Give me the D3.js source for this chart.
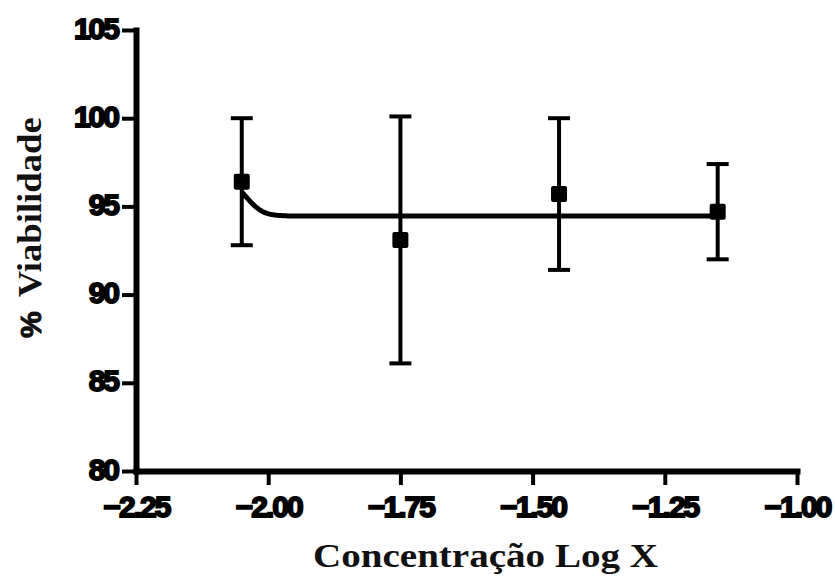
<!DOCTYPE html>
<html>
<head>
<meta charset="utf-8">
<script src="https://cdn.jsdelivr.net/npm/d3@7"></script>
<style>
  body { margin: 0; background: #fff; }
</style>
</head>
<body>
<script>
// data (log concentration vs % viability, mean +/- SD)
var logConc = [-2.05, -1.75, -1.45, -1.15]
var meanViab = [96.4, 93.1, 95.7, 94.7]
var sdViab = [3.6, 7.0, 4.3, 2.7]

var xTicks = [-2.25, -2.00, -1.75, -1.50, -1.25, -1.00]
var yTicks = [80, 85, 90, 95, 100, 105]

// sigmoidal fit (bottom, top, logEC50, hill slope)
var fitBottom = 94.45
var fitTop = 96.45
var fitLogEC50 = -2.039
var fitHill = 29

var width = 835
var height = 576

var svg = d3.select('body').append('svg')
  .attr('width', width)
  .attr('height', height)

var x = d3.scaleLinear().domain([-2.25, -1.0]).range([136, 797])
var y = d3.scaleLinear().domain([80, 105]).range([471, 30])

function fit (lx) {
  return fitBottom + (fitTop - fitBottom) / (1 + Math.pow(10, (lx - fitLogEC50) * fitHill))
}

// axes
var xAxis = svg.append('g')
  .attr('transform', 'translate(0,' + y(80) + ')')
  .call(d3.axisBottom(x).tickValues(xTicks).tickFormat(d3.format('.2f')).tickSize(14).tickSizeOuter(0).tickPadding(11))

var yAxis = svg.append('g')
  .attr('transform', 'translate(' + x(-2.25) + ',0)')
  .call(d3.axisLeft(y).tickValues(yTicks).tickSize(14).tickSizeOuter(0).tickPadding(4))

;[xAxis, yAxis].forEach(function (ax) {
  ax.select('.domain')
    .attr('stroke', '#000')
    .style('stroke-width', '6px')
    .attr('stroke-linecap', 'square')
  ax.selectAll('.tick line')
    .attr('stroke', '#000')
    .style('stroke-width', '4px')
  ax.selectAll('.tick text')
    .attr('fill', '#000')
    .attr('stroke', '#000')
    .style('stroke-width', '1.8px')
    .style('font-family', '"Liberation Sans", Arial, sans-serif')
    .style('font-weight', 'bold')
    .style('font-size', '30px')
    .style('letter-spacing', '-2px')
})
yAxis.selectAll('.tick text').attr('dy', '0.27em')

// fitted curve
var curvePts = d3.range(0, 301).map(function (i) {
  var lx = logConc[0] + (logConc[logConc.length - 1] - logConc[0]) * i / 300
  return [lx, fit(lx)]
})
svg.append('path')
  .datum(curvePts)
  .attr('fill', 'none')
  .attr('stroke', '#000')
  .attr('stroke-width', 5)
  .attr('d', d3.line()
    .x(function (d) { return x(d[0]) })
    .y(function (d) { return y(d[1]) }))

// error bars
var pts = logConc.map(function (lx, i) {
  return { x: lx, m: meanViab[i], sd: sdViab[i] }
})
var bars = svg.selectAll('.err')
  .data(pts)
  .enter().append('g')
  .attr('class', 'err')
  .attr('stroke', '#000')
  .attr('stroke-width', 4)

bars.append('line')
  .attr('x1', function (d) { return x(d.x) })
  .attr('x2', function (d) { return x(d.x) })
  .attr('y1', function (d) { return y(d.m + d.sd) })
  .attr('y2', function (d) { return y(d.m - d.sd) })
bars.append('line')
  .attr('x1', function (d) { return x(d.x) - 11 })
  .attr('x2', function (d) { return x(d.x) + 11 })
  .attr('y1', function (d) { return y(d.m + d.sd) })
  .attr('y2', function (d) { return y(d.m + d.sd) })
bars.append('line')
  .attr('x1', function (d) { return x(d.x) - 11 })
  .attr('x2', function (d) { return x(d.x) + 11 })
  .attr('y1', function (d) { return y(d.m - d.sd) })
  .attr('y2', function (d) { return y(d.m - d.sd) })

// markers
svg.selectAll('.mark')
  .data(pts)
  .enter().append('rect')
  .attr('class', 'mark')
  .attr('x', function (d) { return x(d.x) - 8 })
  .attr('y', function (d) { return y(d.m) - 8 })
  .attr('width', 16)
  .attr('height', 16)
  .attr('rx', 2)
  .attr('fill', '#000')

// axis titles
svg.append('text')
  .attr('x', 313)
  .attr('y', 567)
  .attr('textLength', 345)
  .attr('lengthAdjust', 'spacingAndGlyphs')
  .style('font-family', '"Liberation Serif", "Times New Roman", serif')
  .style('font-weight', 'bold')
  .style('font-size', '33px')
  .attr('fill', '#111')
  .text('Concentração  Log X')

var yt = svg.append('text')
  .attr('transform', 'translate(41,338) rotate(-90)')
  .attr('x', 0)
  .attr('y', 0)
  .attr('fill', '#111')
  .style('font-weight', 'bold')
yt.append('tspan')
  .style('font-family', '"Liberation Sans", Arial, sans-serif')
  .style('font-size', '30px')
  .attr('stroke', '#111')
  .style('stroke-width', '1px')
  .text('%')
yt.append('tspan')
  .attr('dx', 14)
  .attr('textLength', 180)
  .attr('lengthAdjust', 'spacingAndGlyphs')
  .style('font-family', '"Liberation Serif", "Times New Roman", serif')
  .style('font-size', '33px')
  .text('Viabilidade')
</script>
</body>
</html>
